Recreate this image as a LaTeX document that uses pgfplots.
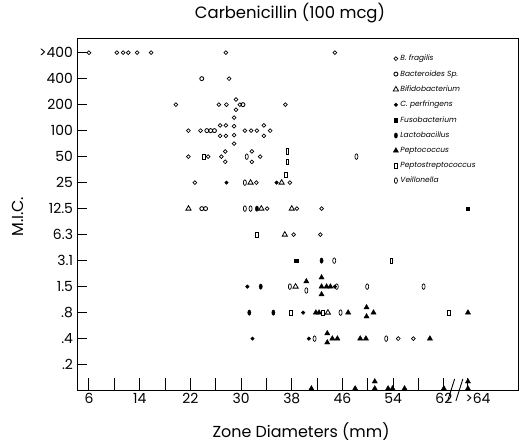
\documentclass[border=0pt]{standalone}
\usepackage{pgfplots}
\pgfplotsset{compat=1.18}
\usepackage{fontspec}
\setmainfont{Poppins}
\begin{document}
\begin{tikzpicture}
\begin{axis}[
  name=ax, scale only axis, width=441bp, height=352bp,
  xmin=4.11, xmax=73.7, ymin=0, ymax=13.54,
  clip=false,
  axis line style={line width=1pt},
  tick style={line width=1pt, black},
  tick align=inside,
  xtick pos=bottom, ytick pos=left,
  x tick style={/pgfplots/major tick length=13bp},
  y tick style={/pgfplots/major tick length=10bp},
  xtick={6,10,...,62},
  xticklabels={6,,14,,22,,30,,38,,46,,54,,62},
  extra x ticks={65.8},
  extra x tick labels={>64},
  extra x tick style={xticklabel style={xshift=10bp}},
  ytick={1,...,13},
  yticklabels={.2,.4,.8,1.5,3.1,6.3,12.5,25,50,100,200,400,>400},
  ticklabel style={font=\fontsize{14}{14}\selectfont},
  xticklabel style={yshift=1bp},
  yticklabel style={xshift=-0.5bp},
  title={Carbenicillin (100 mcg)},
  title style={at={(0.483,1)}, anchor=south, yshift=6bp, font=\fontsize{16.5}{17}\selectfont},
  xlabel={Zone Diameters (mm)},
  xlabel style={at={(0.508,0)}, anchor=base, yshift=-47bp, font=\fontsize{16}{16}\selectfont},
  ylabel={M.I.C.},
  ylabel style={font=\fontsize{16}{16}\selectfont},
  every axis y label/.append style={at={(-59bp,0.494*352bp)}, anchor=center},
  legend style={at={(0.71,0.965)}, anchor=north west, draw=none, fill=none,
    font=\fontsize{7.5}{9}\selectfont\itshape, row sep=4.2pt, cells={anchor=west}},
  every axis plot/.append style={only marks, black},
]
% B. fragilis
\addplot[mark=o, mark size=1.9pt, line width=0.7pt] coordinates {
 (6.0,13) (10.4,13) (11.4,13) (12.2,13) (13.6,13) (15.8,13) (27.6,13) (44.8,13)
 (28.1,12)
 (19.7,11) (26.5,11) (27.7,11) (29.2,11.2) (29.2,10.8) (29.8,11) (37.0,11)
 (21.7,10) (23.6,10) (26.7,10.2) (26.7,9.8) (27.6,10.2) (27.6,9.8)
 (28.9,10.5) (28.9,10.17) (28.9,9.83) (28.9,9.5) (30.6,10) (31.6,10) (32.5,10)
 (33.6,10.2) (33.6,9.8) (34.6,10)
 (21.7,9) (24.8,9) (26.9,9) (27.5,9.2) (27.5,8.8) (31.7,9.2) (31.7,8.8) (33.0,9)
 (22.7,8) (32.4,8) (37.7,8)
 (34.1,7) (38.8,7) (42.7,7)
 (38.3,6) (42.5,6)
 (54.8,2) (57.2,2)
};
\addlegendentry{B. fragilis}
% Bacteroides Sp.
\addplot[mark=o, mark size=2.0pt, line width=0.85pt] coordinates {
 (23.8,12) (30.3,11)
 (24.6,10) (25.2,10) (25.8,10)
 (23.8,7) (24.4,7)
};
\addlegendentry{Bacteroides Sp.}
% Bifidobacterium
\addplot[mark=triangle, mark size=3pt, line width=0.8pt] coordinates {
 (21.7,7) (33.2,7) (38.0,7)
 (31.5,8) (36.4,8)
 (36.9,6)
 (38.6,4)
 (43.7,3)
};
\addlegendentry{Bifidobacterium}
% C. perfringens
\addplot[mark=*, mark size=1.8pt] coordinates {
 (27.7,8) (35.6,8)
 (31.0,4) (44.8,4)
 (39.8,3)
 (31.8,2) (40.7,2)
};
\addlegendentry{C. perfringens}
% Fusobacterium
\addplot[mark=square*, mark size=1.7pt] coordinates {
 (65.8,7) (38.7,5)
};
\addlegendentry{Fusobacterium}
% Lactobacillus
\addplot[mark=*, mark size=2.7pt, mark options={xscale=0.6}] coordinates {
 (32.5,7) (42.7,5) (33.1,4) (31.3,3) (35.1,3)
};
\addlegendentry{Lactobacillus}
% Peptococcus
\addplot[mark=triangle*, mark size=3pt] coordinates {
 (42.7,4.35) (42.7,4.0) (42.7,3.7) (43.5,4) (44.1,4) (40.3,4.2)
 (41.8,3) (42.3,3) (46.9,3) (49.8,3.2) (49.8,2.85) (50.9,3) (65.8,3)
 (43.6,2.2) (43.6,1.85) (44.4,2) (45.2,2) (48.8,2) (49.7,2) (59.8,2)
 (41.1,0.08) (48.0,0.08) (51.1,0.35) (51.1,0.08) (53.2,0.08) (53.9,0.08)
 (55.8,0.08) (62.0,0.08) (65.8,0.35) (65.8,0.08)
};
\addlegendentry{Peptococcus}
% Peptostreptococcus
\addplot[mark=square, mark size=2.6pt, line width=0.7pt, mark options={xscale=0.5}] coordinates {
 (24.1,9) (37.3,9.2) (37.3,8.8)
 (37.1,8.3)
 (32.5,6)
 (53.7,5)
 (37.9,3) (42.9,3) (62.8,3)
};
\addlegendentry{Peptostreptococcus}
% Veillonella
\addplot[mark=o, mark size=2.8pt, line width=0.7pt, mark options={xscale=0.55}] coordinates {
 (30.9,9) (48.2,9)
 (30.6,8)
 (30.6,7) (31.5,7)
 (44.7,5)
 (37.7,4) (40.3,3.85) (45.1,4) (49.9,4) (58.8,4)
 (45.7,3)
 (41.6,2) (52.9,2)
};
\addlegendentry{Veillonella}
% axis break
\draw[line width=0.9pt] (axis cs:62.6,-0.4) -- (axis cs:63.7,0.45);
\draw[line width=0.9pt] (axis cs:63.9,-0.4) -- (axis cs:65.0,0.45);
\end{axis}
\path (ax.south west) ++(-77bp,-54bp) rectangle ++(524bp,443bp);
\end{tikzpicture}
\end{document}
